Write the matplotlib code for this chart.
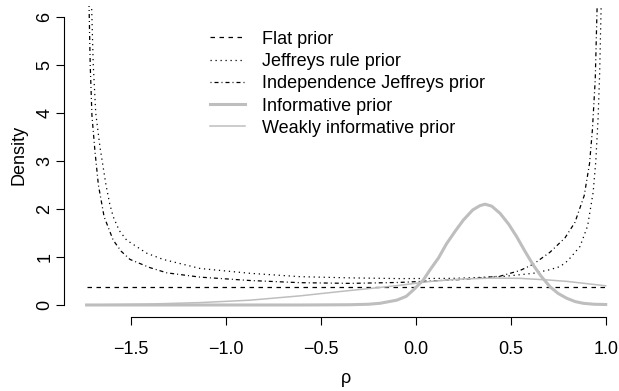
import matplotlib
matplotlib.use('Agg')
import matplotlib.pyplot as plt

plt.rcParams['font.family'] = ['Liberation Sans', 'DejaVu Sans']

# prior densities for rho, read on a common density scale
flat_rho = [-1.732, 1.0]
flat_dens = [0.366, 0.366]

jeff_rho = [-1.707, -1.697, -1.684, -1.662, -1.630, -1.610, -1.592, -1.560, -1.521,
            -1.416, -1.330, -1.134, -0.872, -0.609, -0.346, -0.083, 0.200, 0.450,
            0.619, 0.700, 0.760, 0.800, 0.865, 0.905, 0.934, 0.948, 0.960, 0.968, 0.977]
jeff_dens = [6.4, 5.0, 4.0, 3.3, 2.5, 2.1, 1.84, 1.55, 1.35,
             1.08, 0.95, 0.76, 0.66, 0.59, 0.565, 0.55, 0.555, 0.59,
             0.66, 0.73, 0.80, 0.92, 1.22, 1.65, 2.35, 3.0, 3.9, 4.8, 6.4]

indep_rho = [-1.720, -1.713, -1.704, -1.688, -1.670, -1.640, -1.592, -1.550, -1.504,
             -1.400, -1.310, -1.134, -0.872, -0.609, -0.346, -0.083, 0.233, 0.444,
             0.550, 0.619, 0.707, 0.786, 0.838, 0.887, 0.915, 0.930, 0.945, 0.956]
indep_dens = [6.4, 5.0, 3.95, 3.2, 2.5, 1.84, 1.35, 1.12, 0.95,
              0.78, 0.67, 0.58, 0.51, 0.465, 0.45, 0.47, 0.53, 0.60,
              0.72, 0.85, 1.10, 1.40, 1.72, 2.28, 2.95, 3.65, 4.7, 6.4]

info_rho = [-1.732, -0.600, -0.350, -0.250, -0.188, -0.100, -0.050, -0.013, 0.040,
            0.075, 0.120, 0.163, 0.210, 0.251, 0.300, 0.338, 0.365, 0.400, 0.444,
            0.490, 0.532, 0.575, 0.619, 0.660, 0.707, 0.750, 0.795, 0.840, 0.882,
            0.940, 1.0]
info_dens = [0.0, 0.0, 0.005, 0.015, 0.035, 0.10, 0.18, 0.31, 0.52,
             0.73, 0.98, 1.28, 1.55, 1.77, 1.98, 2.07, 2.10, 2.06, 1.91,
             1.68, 1.42, 1.12, 0.83, 0.60, 0.38, 0.24, 0.14, 0.07, 0.035,
             0.015, 0.01]

weak_rho = [-1.732, -1.400, -1.134, -0.872, -0.609, -0.399, -0.200, -0.083, 0.075,
            0.233, 0.400, 0.549, 0.700, 0.800, 1.0]
weak_dens = [0.0, 0.02, 0.05, 0.10, 0.19, 0.28, 0.36, 0.41, 0.49,
             0.54, 0.56, 0.555, 0.52, 0.49, 0.40]

x_ticks = [-1.5, -1.0, -0.5, 0.0, 0.5, 1.0]
x_tick_labels = ['\u22121.5', '\u22121.0', '\u22120.5', '0.0', '0.5', '1.0']
y_ticks = [0, 1, 2, 3, 4, 5, 6]

fs = 13
W, H = 619, 391
fig = plt.figure(figsize=(W / 100, H / 100), dpi=100)
ax = fig.add_axes([64 / W, (H - 316.5) / H, (W - 64) / W, (316.5 - 6) / H])

black_lw = 0.9
ax.plot(flat_rho, flat_dens, color='black', lw=black_lw, linestyle=(0, (3.6, 3.6)),
        label='Flat prior')
ax.plot(jeff_rho, jeff_dens, color='black', lw=black_lw, linestyle=(0, (1, 3)),
        label='Jeffreys rule prior')
ax.plot(indep_rho, indep_dens, color='black', lw=black_lw,
        linestyle=(0, (0.8, 2.4, 3.2, 2.4)), label='Independence Jeffreys prior')
ax.plot(info_rho, info_dens, color='#bebebe', lw=2.2, label='Informative prior')
ax.plot(weak_rho, weak_dens, color='#bebebe', lw=1.1, label='Weakly informative prior')

ax.set_xlim(-1.851, 1.070)
ax.set_ylim(-0.24, 6.23)

for side in ['top', 'right']:
    ax.spines[side].set_visible(False)
ax.spines['left'].set_bounds(0, 6)
ax.spines['bottom'].set_bounds(-1.5, 1.0)
for side in ['left', 'bottom']:
    ax.spines[side].set_linewidth(0.8)

ax.set_xticks(x_ticks)
ax.set_xticklabels(x_tick_labels)
ax.set_yticks(y_ticks)
ax.set_yticklabels([str(v) for v in y_ticks])
ax.tick_params(direction='out', length=5.8, width=0.8, labelsize=fs)
ax.tick_params(axis='x', pad=12.0)
ax.tick_params(axis='y', pad=2.0, labelrotation=90)
plt.setp(ax.get_yticklabels(), va='center')

ax.set_xlabel('\u03c1', fontsize=fs)
ax.xaxis.set_label_coords(0.509, -0.171)
ax.set_ylabel('Density', fontsize=fs)
ax.yaxis.set_label_coords(-0.066, 0.52)

ax.legend(loc='upper left', bbox_to_anchor=(210 / W, 1 - 30.8 / H),
          bbox_transform=fig.transFigure, frameon=False, fontsize=fs,
          handlelength=1.94, handletextpad=0.92, labelspacing=0.29,
          borderpad=0, borderaxespad=0)

fig.savefig('out.png', dpi=100)
